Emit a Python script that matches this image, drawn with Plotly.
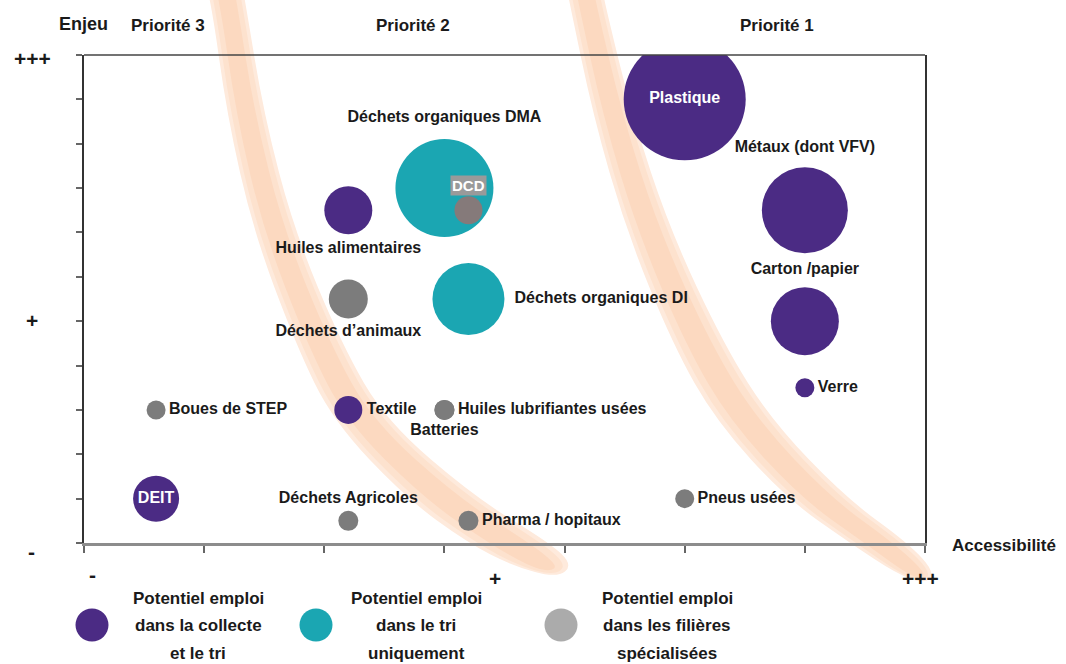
import plotly.graph_objects as go

# filières : accessibilité (x), enjeu (y), potentiel emploi (taille)
noms = ["Plastique", "Métaux (dont VFV)", "Carton /papier", "Verre",
        "Huiles alimentaires", "Textile", "DEIT",
        "Déchets organiques DMA", "Déchets organiques DI",
        "DCD", "Déchets d’animaux", "Boues de STEP", "Huiles lubrifiantes usées",
        "Batteries", "Déchets Agricoles", "Pharma / hopitaux", "Pneus usées"]
accessibilite = [5.0, 6.0, 6.0, 6.0, 2.2, 2.2, 0.6, 3.0, 3.2, 3.2, 2.2, 0.6, 3.0, 3.0, 2.2, 3.2, 5.0]
enjeu = [10, 7.5, 5, 3.5, 7.5, 3, 1, 8, 5.5, 7.5, 5.5, 3, 3, 3, 0.5, 0.5, 1]
potentiel = [61, 43, 34, 9.5, 24, 14, 23, 49, 36, 14, 19.5, 9.5, 10, 10, 10, 10, 9.5]
groupe = ["collecte"] * 7 + ["tri"] * 2 + ["filiere"] * 8

legende = {
    "collecte": ["Potentiel emploi", "dans la collecte", "et le tri"],
    "tri": ["Potentiel emploi", "dans le tri", "uniquement"],
    "filiere": ["Potentiel emploi", "dans les filières", "spécialisées"],
}
priorites = ["Priorité 3", "Priorité 2", "Priorité 1"]

# styles
couleurs = {"collecte": "#4B2B84", "tri": "#1BA6B2", "filiere": "#7C7C7C"}
couleurs_leg = {"collecte": "#4B2B84", "tri": "#1BA6B2", "filiere": "#ABABAB"}
positions = ["middle center", "top center", "top center", "middle right",
             "bottom center", "middle right", "middle center",
             "top center", "middle right",
             "top center", "bottom center", "middle right", "middle right",
             "bottom center", "top center", "middle right", "middle right"]
FONT = "Liberation Sans, Arial, sans-serif"

# zone de tracé en pixels
L, R, T, B = 84, 925, 55, 543
W, H = 1066, 664


def px(x, y):
    return (x - L) / (R - L), (B - y) / (B - T)


fig = go.Figure()

for g in ["tri", "collecte", "filiere"]:
    idx = [i for i in range(len(noms)) if groupe[i] == g]
    txt = ["" if noms[i] == "DCD" else noms[i] for i in idx]
    tcol = ["white" if noms[i] in ("Plastique", "DEIT") else "#1a1a1a" for i in idx]
    col = ["#857A7A" if noms[i] == "DCD" else couleurs[g] for i in idx]
    fig.add_trace(go.Scatter(
        x=[accessibilite[i] for i in idx],
        y=[enjeu[i] for i in idx],
        mode="markers+text",
        text=txt,
        textposition=[positions[i] for i in idx],
        textfont=dict(family=FONT, size=16, color=tcol, weight="bold"),
        marker=dict(size=[potentiel[i] for i in idx], sizemode="diameter",
                    sizeref=0.5, color=col, line=dict(width=0), opacity=1),
        hovertext=[noms[i] for i in idx],
        hoverinfo="text",
        showlegend=False,
    ))

# étiquette DCD
i = noms.index("DCD")
fig.add_annotation(x=accessibilite[i], y=enjeu[i], yshift=25, text="DCD",
                   showarrow=False, bgcolor="#9A9A9A", borderpad=1,
                   font=dict(family=FONT, size=15, color="white", weight="bold"))


# bandes orange (décor)
def band_path(left, right, tip):
    pts = left + [tip] + right[::-1]
    pts = [px(a, b) for a, b in pts]
    d = "M %.4f %.4f" % pts[0]
    for k in range(1, len(pts) - 1):
        mx = (pts[k][0] + pts[k + 1][0]) / 2
        my = (pts[k][1] + pts[k + 1][1]) / 2
        d += " Q %.4f %.4f %.4f %.4f" % (pts[k][0], pts[k][1], mx, my)
    d += " L %.4f %.4f Z" % pts[-1]
    return d


def shrink(left, right, tip, f):
    lo, ro = [], []
    for (xl, yl), (xr, yr) in zip(left, right):
        cx, cy = (xl + xr) / 2, (yl + yr) / 2
        lo.append((cx + (xl - cx) * f, cy + (yl - cy) * f))
        ro.append((cx + (xr - cx) * f, cy + (yr - cy) * f))
    bx = (left[-1][0] + right[-1][0]) / 2
    by = (left[-1][1] + right[-1][1]) / 2
    ti = (bx + (tip[0] - bx) * f, by + (tip[1] - by) * f)
    return lo, ro, ti


bandes = [
    ([(205, -20), (211, 0), (227, 115), (253, 230), (296, 345), (333, 421), (406, 498), (468, 543), (513, 566)],
     [(241, -20), (245, 0), (264, 115), (294, 230), (342, 345), (386, 421), (476, 498), (550, 543), (573, 565)],
     (557, 578)),
    ([(565, -20), (569, 0), (593, 115), (626, 230), (673, 345), (716, 421), (786, 498), (850, 543), (897, 574)],
     [(601, -20), (604, 0), (632, 115), (670, 230), (724, 345), (772, 421), (846, 498), (908, 543), (935, 572)],
     (925, 584)),
]
for left, right, tip in bandes:
    for f, c in [(1.0, "#FEEADC"), (0.8, "#FDE2CE"), (0.5, "#FCD9C0")]:
        li, ri, ti = shrink(left, right, tip, f)
        fig.add_shape(type="path", path=band_path(li, ri, ti), xref="paper", yref="paper",
                      fillcolor=c, line=dict(width=0), layer="below")

# ligne du haut du cadre
fig.add_shape(type="line", xref="paper", yref="paper", x0=0, x1=1, y0=1, y1=1,
              line=dict(color="#444", width=1.5))

# légende
leg_x = {"collecte": (92, 198), "tri": (316, 416), "filiere": (561, 667)}
for g, (cx, tx) in leg_x.items():
    x0, y0 = px(cx - 16.5, 625 + 16.5)
    x1, y1 = px(cx + 16.5, 625 - 16.5)
    fig.add_shape(type="circle", xref="paper", yref="paper", x0=x0, x1=x1, y0=y0, y1=y1,
                  fillcolor=couleurs_leg[g], line=dict(width=0))
    for k, ligne in enumerate(legende[g]):
        ax, ay = px(tx, 598 + 27.5 * k)
        fig.add_annotation(x=ax, y=ay, xref="paper", yref="paper", text=ligne, showarrow=False,
                           xanchor="center", yanchor="middle",
                           font=dict(family=FONT, size=17, color="#1a1a1a", weight="bold"))

# textes des axes
textes = [("Enjeu", 83, 24, 18), ("Accessibilité", 1004, 545, 17),
          (priorites[0], 168, 25, 17), (priorites[1], 413, 25, 17), (priorites[2], 777, 25, 17),
          ("+++", 32, 58, 21), ("+", 32, 320, 21), ("-", 31, 551, 21),
          ("-", 92, 574, 21), ("+", 495, 578, 21), ("+++", 920, 578, 21)]
for t, x, y, s in textes:
    ax, ay = px(x, y)
    fig.add_annotation(x=ax, y=ay, xref="paper", yref="paper", text=t, showarrow=False,
                       xanchor="center", yanchor="middle",
                       font=dict(family=FONT, size=s, color="#1a1a1a", weight="bold"))

fig.update_xaxes(range=[0, 7], tickvals=list(range(8)), ticks="outside", ticklen=7,
                 tickwidth=1.5, tickcolor="#666", showticklabels=False, showline=True,
                 linewidth=3, linecolor="#8C8C8C", showgrid=False, zeroline=False)
fig.update_yaxes(range=[0, 11], tickvals=list(range(12)), ticks="outside", ticklen=6,
                 tickwidth=1.5, tickcolor="#666", showticklabels=False, showline=True,
                 linewidth=1.5, linecolor="#333", mirror=True, showgrid=False, zeroline=False)
fig.update_layout(width=W, height=H,
                  margin=dict(l=L, r=W - R, t=T, b=H - B),
                  plot_bgcolor="rgba(0,0,0,0)", paper_bgcolor="white",
                  font=dict(family=FONT), showlegend=False)

# page sans marge pour que la figure remplisse la fenêtre
fig.write_html("out.html", config={"displayModeBar": False},
               post_script="document.body.style.margin='0';document.body.style.overflow='hidden';")
